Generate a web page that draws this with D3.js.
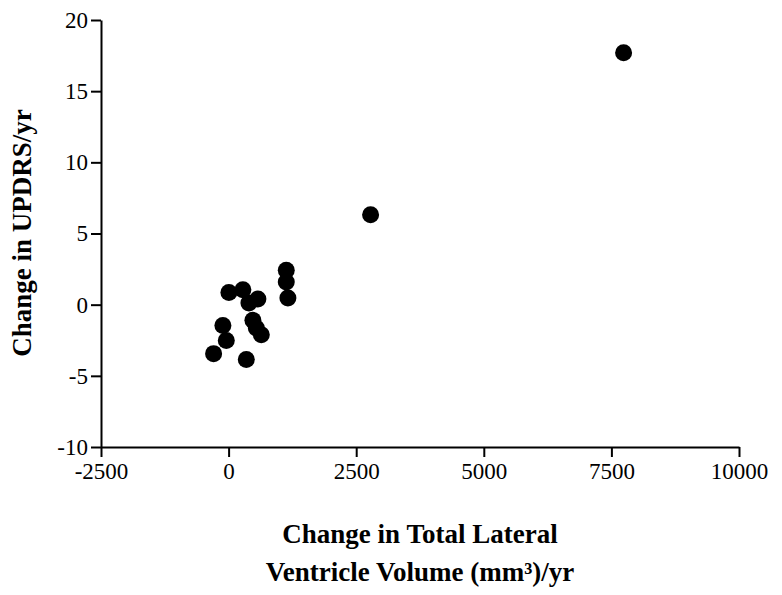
<!DOCTYPE html>
<html><head><meta charset="utf-8">
<script src="https://cdn.jsdelivr.net/npm/d3@7"></script>
<style>body{margin:0;background:#fff}svg{display:block}</style>
</head><body>
<svg id="c" width="782" height="595" font-family="Liberation Serif"></svg>
<script>
const xValues = [6, 280, 398, 574, 1130, 1130, 1162, -112, -45, -294, 347, 476, 543, 641, 2782, 7739];
const yValues = [0.86, 1.05, 0.12, 0.40, 2.41, 1.59, 0.47, -1.47, -2.51, -3.44, -3.86, -1.10, -1.64, -2.11, 6.32, 17.7];
const xTicks = [-2500, 0, 2500, 5000, 7500, 10000];
const yTicks = [-10, -5, 0, 5, 10, 15, 20];

const svg = d3.select("#c");
const root = svg.append("g").attr("font-family", "Liberation Serif");
const x = d3.scaleLinear().domain([-2500, 10000]).range([101, 739]);
const y = d3.scaleLinear().domain([-10, 20]).range([447, 20]);

const xa = root.append("g").attr("transform", "translate(0,447)")
  .call(d3.axisBottom(x).tickValues(xTicks).tickSize(10).tickPadding(6).tickSizeOuter(0).tickFormat(d => String(d)));
const ya = root.append("g").attr("transform", "translate(101,0)")
  .call(d3.axisLeft(y).tickValues(yTicks).tickSize(10).tickPadding(3).tickSizeOuter(0).tickFormat(d => String(d)));
[xa, ya].forEach(a => {
  a.attr("font-family", "Liberation Serif").attr("font-size", 23);
  a.selectAll("path,line").attr("stroke", "#000").attr("stroke-width", 2);
  a.selectAll("text").attr("fill", "#000");
});

root.append("g").selectAll("circle").data(xValues.map((v, i) => [v, yValues[i]])).join("circle")
  .attr("cx", d => x(d[0])).attr("cy", d => y(d[1])).attr("r", 8.5).attr("fill", "#000");

root.append("text").attr("transform", "translate(31,233) rotate(-90)").attr("text-anchor", "middle")
  .attr("font-family", "Liberation Serif").attr("font-weight", "bold").attr("font-size", 27).text("Change in UPDRS/yr");
root.append("text").attr("x", 420).attr("y", 543).attr("text-anchor", "middle")
  .attr("font-family", "Liberation Serif").attr("font-weight", "bold").attr("font-size", 27).text("Change in Total Lateral");
root.append("text").attr("x", 420).attr("y", 581).attr("text-anchor", "middle")
  .attr("font-family", "Liberation Serif").attr("font-weight", "bold").attr("font-size", 27).text("Ventricle Volume (mm³)/yr");
</script>
</body></html>
